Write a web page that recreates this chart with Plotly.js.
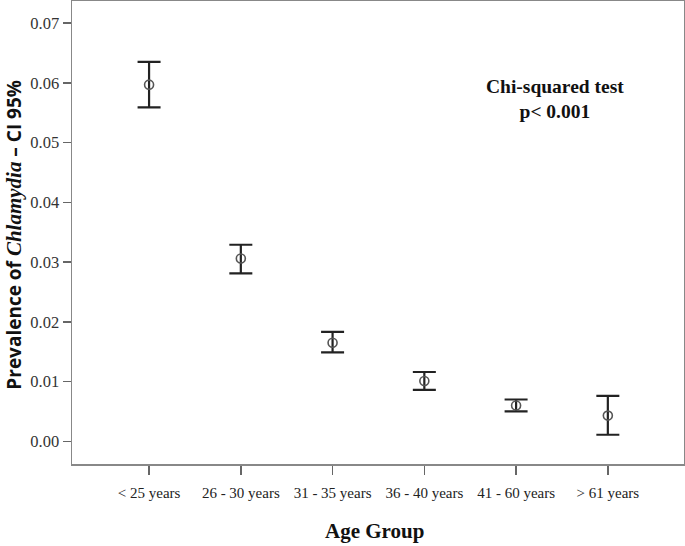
<!DOCTYPE html>
<html><head><meta charset="utf-8">
<script src="https://cdn.plot.ly/plotly-3.0.1.min.js"></script>
<style>body{margin:0;background:#fff}#chart{width:685px;height:546px}</style>
</head><body><div id="chart"></div>
<script>
const categories = ["< 25 years","26 - 30 years","31 - 35 years","36 - 40 years","41 - 60 years","> 61 years"];
const prevalence = [0.0597, 0.0306, 0.0165, 0.0101, 0.0060, 0.0043];
const ciUpper = [0.0635, 0.0329, 0.0183, 0.0116, 0.0070, 0.0076];
const ciLower = [0.0559, 0.0281, 0.0149, 0.0086, 0.0050, 0.0011];
const yTicks = [0, 0.01, 0.02, 0.03, 0.04, 0.05, 0.06, 0.07];

const xIdx = categories.map((c,i)=>i);
const trace = {
  x: xIdx, y: prevalence, type: 'scatter', mode: 'markers',
  marker: {symbol: 'circle-open', size: 9, color: '#555', line: {width: 1.6, color: '#555'}},
  error_y: {type: 'data', symmetric: false,
    array: ciUpper.map((u,i)=>u-prevalence[i]),
    arrayminus: ciLower.map((l,i)=>prevalence[i]-l),
    color: '#222', thickness: 2.2, width: 11.5},
  hoverinfo: 'none'
};
const layout = {
  width: 685, height: 546,
  margin: {l: 72, r: 1, t: 1, b: 82},
  paper_bgcolor: '#fff', plot_bgcolor: '#fff',
  showlegend: false,
  xaxis: {range: [-0.84, 5.83], tickvals: xIdx, ticktext: categories,
    showgrid: false, zeroline: false, showline: true, mirror: true,
    linecolor: '#888', linewidth: 1.5, ticks: 'outside', ticklen: 9, tickwidth: 1.5, tickcolor: '#666',
    ticklabelstandoff: 5,
    tickfont: {family: 'Liberation Serif, Times New Roman, serif', size: 15, color: '#222'}},
  yaxis: {range: [-0.0038, 0.0737], tickvals: yTicks, ticktext: yTicks.map(v=>v.toFixed(2)),
    showgrid: false, zeroline: false, showline: true, mirror: true,
    linecolor: '#888', linewidth: 1.5, ticks: 'outside', ticklen: 8, tickwidth: 1.5, tickcolor: '#666',
    tickfont: {family: 'Liberation Serif, Times New Roman, serif', size: 16.5, color: '#333'}},
  annotations: [
    {xref: 'paper', yref: 'paper', x: -0.095, y: 0.495, xanchor: 'center', yanchor: 'middle',
     textangle: -90, showarrow: false,
     text: 'Prevalence of <i><span style="font-family:Liberation Serif, serif;font-size:21px">Chlamydia</span></i> – CI 95%',
     font: {family: 'Open Sans, DejaVu Sans, sans-serif', size: 19, color: '#111', weight: 'bold'}},
    {xref: 'paper', yref: 'paper', x: 0.495, y: -0.145, xanchor: 'center', yanchor: 'middle', showarrow: false,
     text: 'Age Group', font: {family: 'Liberation Serif, Times New Roman, serif', size: 21, color: '#111', weight: 'bold'}},
    {xref: 'paper', yref: 'paper', x: 0.789, y: 0.788, xanchor: 'center', yanchor: 'middle', showarrow: false,
     text: 'Chi-squared test<br>p< 0.001', align: 'center',
     font: {family: 'Liberation Serif, Times New Roman, serif', size: 19.5, color: '#111', weight: 'bold'}}
  ]
};
Plotly.newPlot('chart', [trace], layout, {staticPlot: true, displayModeBar: false});
</script></body></html>
